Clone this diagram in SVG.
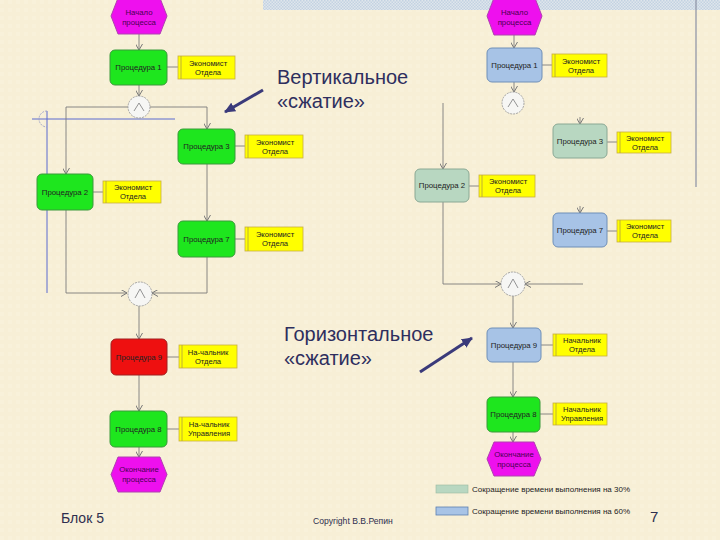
<svg xmlns="http://www.w3.org/2000/svg" width="720" height="540" viewBox="0 0 720 540">
<defs>
<pattern id="bg" width="8" height="8" patternUnits="userSpaceOnUse">
<rect width="8" height="8" fill="#f7efd6"/>
<rect x="0" y="0" width="4" height="4" fill="#f8f1da"/>
</pattern>
<pattern id="hatch" width="3" height="3" patternUnits="userSpaceOnUse">
<rect width="3" height="3" fill="#dfe6ec"/>
<rect width="1.5" height="1.5" fill="#c3d2e2"/>
<rect x="1.5" y="1.5" width="1.5" height="1.5" fill="#c3d2e2"/>
</pattern>
<marker id="ah" markerWidth="7" markerHeight="7" refX="6" refY="3.5" orient="auto" markerUnits="userSpaceOnUse">
<path d="M0,0 L6,3.5 L0,7" fill="none" stroke="#777" stroke-width="1"/>
</marker>
<marker id="big" markerWidth="12" markerHeight="10" refX="10" refY="5" orient="auto" markerUnits="userSpaceOnUse">
<path d="M0,0 L11,5 L0,10 Z" fill="#3a3a7a"/>
</marker>
<style>
.t{font-family:"Liberation Sans",Arial,sans-serif;fill:#222;}
.n{font-size:7.8px;text-anchor:middle;}
.y{font-size:7.6px;text-anchor:middle;}
.g{fill:#1ee61e;stroke:#3a9a3a;stroke-width:1;}
.r{fill:#ee1010;stroke:#a02020;stroke-width:1;}
.b{fill:#a7c3e6;stroke:#6f8fb8;stroke-width:1;}
.s{fill:#b8d7c1;stroke:#8aa894;stroke-width:1;}
.hx{fill:#ee10ee;stroke:#b040b0;stroke-width:1;}
.yl{fill:#ffff00;stroke:#c8b040;stroke-width:0.8;}
.il{stroke:#b0a040;stroke-width:0.8;}
.c{fill:none;stroke:#7a7a7a;stroke-width:0.9;}
.ci{fill:#f6f6f4;stroke:#9a9a9a;stroke-width:0.9;stroke-dasharray:2 1;}
.chv{fill:none;stroke:#888;stroke-width:0.9;}
.big{font-family:"Liberation Sans",Arial,sans-serif;font-size:20px;fill:#2e2e5e;}
.hp{fill:#4a0050;}
</style>
</defs>
<rect width="720" height="540" fill="url(#bg)"/>
<rect x="263" y="0" width="457" height="10" fill="url(#hatch)"/>
<line x1="696" y1="0" x2="696" y2="187" stroke="#8a90a4" stroke-width="1.2"/>

<!-- guides (left) -->
<g id="guides">
<line x1="32" y1="119" x2="175" y2="119" stroke="#5a6ad0" stroke-width="1"/>
<line x1="47" y1="111" x2="47" y2="293" stroke="#5a6ad0" stroke-width="1"/>
<path d="M47,111 A8,8 0 0 0 47,127" fill="none" stroke="#9aa0c8" stroke-width="0.9" stroke-dasharray="2 1"/>
</g>

<g id="connectors">
<!-- left -->
<line class="c" x1="139" y1="34" x2="139" y2="50" marker-end="url(#ah)"/>
<line class="c" x1="167" y1="67" x2="178" y2="67"/>
<line class="c" x1="139" y1="85" x2="139" y2="96" marker-end="url(#ah)"/>
<line class="c" x1="66" y1="107" x2="207" y2="107"/>
<line class="c" x1="66" y1="107" x2="66" y2="174" marker-end="url(#ah)"/>
<line class="c" x1="207" y1="107" x2="207" y2="129" marker-end="url(#ah)"/>
<line class="c" x1="235" y1="146" x2="245" y2="146"/>
<line class="c" x1="93" y1="192" x2="103" y2="192"/>
<line class="c" x1="207" y1="164" x2="207" y2="221" marker-end="url(#ah)"/>
<line class="c" x1="235" y1="239" x2="245" y2="239"/>
<polyline class="c" points="66,210 66,293 127,293" marker-end="url(#ah)"/>
<polyline class="c" points="207,257 207,293 152,293" marker-end="url(#ah)"/>
<line class="c" x1="139" y1="306" x2="139" y2="339" marker-end="url(#ah)"/>
<line class="c" x1="167" y1="357" x2="179" y2="357"/>
<line class="c" x1="139" y1="375" x2="139" y2="411" marker-end="url(#ah)"/>
<line class="c" x1="167" y1="429" x2="179" y2="429"/>
<line class="c" x1="139" y1="447" x2="139" y2="457" marker-end="url(#ah)"/>
<!-- right -->
<line class="c" x1="514" y1="35" x2="514" y2="48" marker-end="url(#ah)"/>
<line class="c" x1="542" y1="65" x2="552" y2="65"/>
<line class="c" x1="514" y1="82" x2="514" y2="92" marker-end="url(#ah)"/>
<line class="c" x1="443" y1="103" x2="443" y2="169" marker-end="url(#ah)"/>
<line class="c" x1="580" y1="117" x2="580" y2="124" marker-end="url(#ah)"/>
<line class="c" x1="607" y1="142" x2="617" y2="142"/>
<line class="c" x1="469" y1="186" x2="479" y2="186"/>
<line class="c" x1="580" y1="206" x2="580" y2="213" marker-end="url(#ah)"/>
<line class="c" x1="607" y1="231" x2="617" y2="231"/>
<polyline class="c" points="443,202 443,284 501,284" marker-end="url(#ah)"/>
<line class="c" x1="583" y1="284" x2="525" y2="284" marker-end="url(#ah)"/>
<line class="c" x1="513" y1="296" x2="513" y2="328" marker-end="url(#ah)"/>
<line class="c" x1="541" y1="345" x2="553" y2="345"/>
<line class="c" x1="513" y1="362" x2="513" y2="397" marker-end="url(#ah)"/>
<line class="c" x1="540" y1="414" x2="553" y2="414"/>
<line class="c" x1="513" y1="432" x2="513" y2="442" marker-end="url(#ah)"/>
<!-- annotation arrows -->
<line x1="263" y1="90" x2="225" y2="112" stroke="#3a3a7a" stroke-width="3" marker-end="url(#big)"/>
<line x1="420" y1="372" x2="472" y2="338" stroke="#3a3a7a" stroke-width="3" marker-end="url(#big)"/>
</g>

<!-- LEFT COLUMN -->
<g id="l-start">
<polygon class="hx" points="118,-2 160,-2 167,16 160,34 118,34 111,16"/>
<text class="t n hp" x="139" y="15">Начало</text>
<text class="t n hp" x="139" y="25">процесса</text>
</g>
<g id="l-p1">
<rect class="g" x="110" y="50" width="57" height="35" rx="5"/>
<text class="t n" x="138.5" y="70">Процедура 1</text>
</g>
<g id="l-e1">
<rect class="yl" x="178" y="56" width="57" height="23"/>
<line class="il" x1="181" y1="56" x2="181" y2="79"/>
<text class="t y" x="208" y="66">Экономист</text>
<text class="t y" x="208" y="75">Отдела</text>
</g>
<g id="l-x1">
<circle class="ci" cx="139" cy="107" r="11"/>
<polyline class="chv" points="134,111 139,103 144,111"/>
</g>
<g id="l-p3">
<rect class="g" x="178" y="129" width="57" height="35" rx="5"/>
<text class="t n" x="206.5" y="149">Процедура 3</text>
</g>
<g id="l-e3">
<rect class="yl" x="245" y="135" width="58" height="23"/>
<line class="il" x1="248" y1="135" x2="248" y2="158"/>
<text class="t y" x="275" y="145">Экономист</text>
<text class="t y" x="275" y="154">Отдела</text>
</g>
<g id="l-p2">
<rect class="g" x="37" y="174" width="56" height="36" rx="5"/>
<text class="t n" x="65" y="195">Процедура 2</text>
</g>
<g id="l-e2">
<rect class="yl" x="103" y="181" width="58" height="22"/>
<line class="il" x1="106" y1="181" x2="106" y2="203"/>
<text class="t y" x="133" y="190">Экономист</text>
<text class="t y" x="133" y="199">Отдела</text>
</g>
<g id="l-p7">
<rect class="g" x="178" y="221" width="57" height="36" rx="5"/>
<text class="t n" x="206.5" y="242">Процедура 7</text>
</g>
<g id="l-e7">
<rect class="yl" x="245" y="227" width="58" height="24"/>
<line class="il" x1="248" y1="227" x2="248" y2="251"/>
<text class="t y" x="275" y="237">Экономист</text>
<text class="t y" x="275" y="246">Отдела</text>
</g>
<g id="l-x2">
<circle class="ci" cx="140" cy="294" r="12"/>
<polyline class="chv" points="135,298 140,289 145,298"/>
</g>
<g id="l-p9">
<rect class="r" x="111" y="339" width="56" height="36" rx="5"/>
<text class="t n" x="139" y="360" fill="#5a0000">Процедура 9</text>
</g>
<g id="l-h9">
<rect class="yl" x="179" y="345" width="58" height="23"/>
<line class="il" x1="182" y1="345" x2="182" y2="368"/>
<text class="t y" x="208" y="355">На-чальник</text>
<text class="t y" x="208" y="364">Отдела</text>
</g>
<g id="l-p8">
<rect class="g" x="110" y="411" width="57" height="36" rx="5"/>
<text class="t n" x="138.5" y="432">Процедура 8</text>
</g>
<g id="l-h8">
<rect class="yl" x="179" y="417" width="58" height="24"/>
<line class="il" x1="182" y1="417" x2="182" y2="441"/>
<text class="t y" x="209" y="427">На-чальник</text>
<text class="t y" x="209" y="436">Управления</text>
</g>
<g id="l-end">
<polygon class="hx" points="118,457 160,457 167,474.5 160,492 118,492 111,474.5"/>
<text class="t n hp" x="139" y="472">Окончание</text>
<text class="t n hp" x="139" y="482">процесса</text>
</g>

<!-- RIGHT COLUMN -->
<g id="r-start">
<polygon class="hx" points="494,-2 535,-2 542,16 535,35 494,35 487,16"/>
<text class="t n hp" x="514.5" y="15">Начало</text>
<text class="t n hp" x="514.5" y="25">процесса</text>
</g>
<g id="r-p1">
<rect class="b" x="487" y="48" width="55" height="34" rx="5"/>
<text class="t n" x="514.5" y="68">Процедура 1</text>
</g>
<g id="r-e1">
<rect class="yl" x="552" y="54" width="55" height="23"/>
<line class="il" x1="555" y1="54" x2="555" y2="77"/>
<text class="t y" x="581" y="64">Экономист</text>
<text class="t y" x="581" y="73">Отдела</text>
</g>
<g id="r-x1">
<circle class="ci" cx="513" cy="103" r="11"/>
<polyline class="chv" points="508,107 513,99 518,107"/>
</g>
<g id="r-p3">
<rect class="s" x="553" y="124" width="54" height="34" rx="5"/>
<text class="t n" x="580" y="144">Процедура 3</text>
</g>
<g id="r-e3">
<rect class="yl" x="617" y="132" width="54" height="21"/>
<line class="il" x1="620" y1="132" x2="620" y2="153"/>
<text class="t y" x="645" y="141">Экономист</text>
<text class="t y" x="645" y="150">Отдела</text>
</g>
<g id="r-p2">
<rect class="s" x="415" y="169" width="54" height="33" rx="5"/>
<text class="t n" x="442" y="188">Процедура 2</text>
</g>
<g id="r-e2">
<rect class="yl" x="479" y="175" width="56" height="22"/>
<line class="il" x1="482" y1="175" x2="482" y2="197"/>
<text class="t y" x="508" y="184">Экономист</text>
<text class="t y" x="508" y="193">Отдела</text>
</g>
<g id="r-p7">
<rect class="b" x="553" y="213" width="54" height="34" rx="5"/>
<text class="t n" x="580" y="233">Процедура 7</text>
</g>
<g id="r-e7">
<rect class="yl" x="617" y="220" width="54" height="22"/>
<line class="il" x1="620" y1="220" x2="620" y2="242"/>
<text class="t y" x="645" y="229">Экономист</text>
<text class="t y" x="645" y="238">Отдела</text>
</g>
<g id="r-x2">
<circle class="ci" cx="513" cy="284" r="12"/>
<polyline class="chv" points="508,288 513,279 518,288"/>
</g>
<g id="r-p9">
<rect class="b" x="487" y="328" width="54" height="34" rx="5"/>
<text class="t n" x="514" y="348">Процедура 9</text>
</g>
<g id="r-h9">
<rect class="yl" x="553" y="334" width="54" height="22"/>
<line class="il" x1="556" y1="334" x2="556" y2="356"/>
<text class="t y" x="582" y="343">Начальник</text>
<text class="t y" x="582" y="352">Отдела</text>
</g>
<g id="r-p8">
<rect class="g" x="487" y="397" width="53" height="35" rx="5"/>
<text class="t n" x="513.5" y="417">Процедура 8</text>
</g>
<g id="r-h8">
<rect class="yl" x="553" y="403" width="54" height="22"/>
<line class="il" x1="556" y1="403" x2="556" y2="425"/>
<text class="t y" x="582" y="412">Начальник</text>
<text class="t y" x="582" y="421">Управления</text>
</g>
<g id="r-end">
<polygon class="hx" points="494,442 534,442 541,459 534,476 494,476 487,459"/>
<text class="t n hp" x="514" y="457">Окончание</text>
<text class="t n hp" x="514" y="467">процесса</text>
</g>

<!-- captions -->
<text class="big" x="277" y="84">Вертикальное</text>
<text class="big" x="277" y="108">«сжатие»</text>
<text class="big" x="284" y="341">Горизонтальное</text>
<text class="big" x="284" y="365">«сжатие»</text>

<!-- legend -->
<g id="legend">
<rect x="436" y="485" width="32" height="8" fill="#b8d7c1" stroke="#9ab8a2" stroke-width="0.6"/>
<text class="t" x="472" y="492" font-size="8">Сокращение времени выполнения на 30%</text>
<rect x="436" y="507" width="32" height="8" fill="#a7c3e6" stroke="#5d7fb0" stroke-width="0.8"/>
<text class="t" x="472" y="514" font-size="8">Сокращение времени выполнения на 60%</text>
</g>

<!-- footer -->
<text x="61" y="523" font-family="Liberation Sans, Arial, sans-serif" font-size="14" fill="#2e2e4e">Блок 5</text>
<text x="313" y="524" font-family="Liberation Sans, Arial, sans-serif" font-size="8.6" fill="#2e2e4e">Copyright В.В.Репин</text>
<text x="650" y="522" font-family="Liberation Sans, Arial, sans-serif" font-size="15" fill="#2e2e4e">7</text>
</svg>
